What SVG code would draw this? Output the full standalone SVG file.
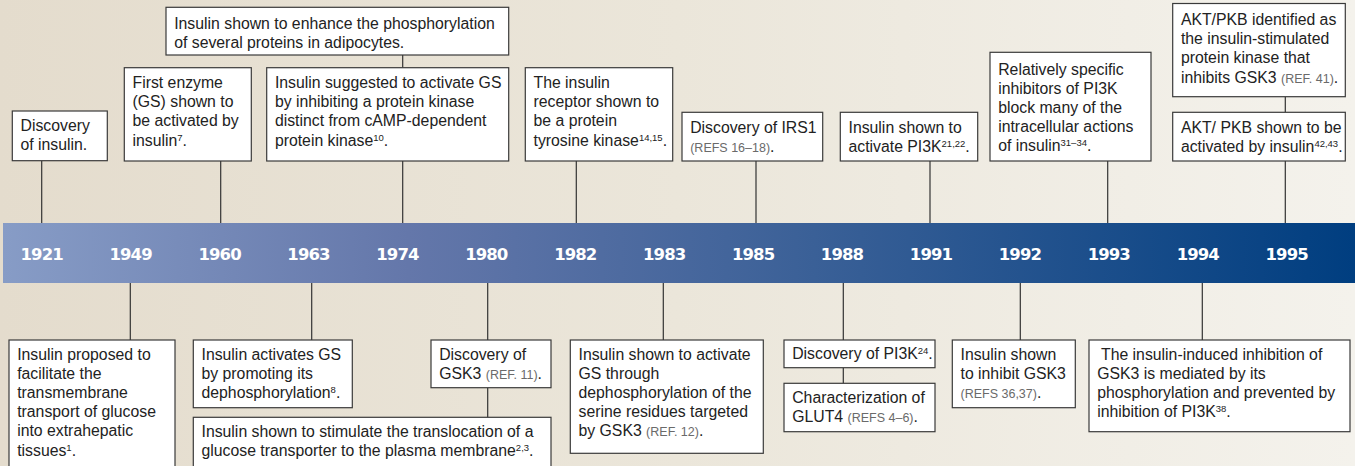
<svg xmlns="http://www.w3.org/2000/svg" width="1355" height="466" viewBox="0 0 1355 466">
<defs>
<linearGradient id="bg" x1="0" y1="0" x2="1" y2="0">
<stop offset="0" stop-color="#e4dccd"/>
<stop offset="0.5" stop-color="#ebe6da"/>
<stop offset="1" stop-color="#f4f2ec"/>
</linearGradient>
<linearGradient id="band" x1="0" y1="0" x2="1" y2="0">
<stop offset="0" stop-color="#879cc6"/>
<stop offset="0.3" stop-color="#6477aa"/>
<stop offset="0.6" stop-color="#3a6097"/>
<stop offset="1" stop-color="#003e80"/>
</linearGradient>
<style>
.box{fill:#fff;stroke:#3a3a3a;stroke-width:1.2}
.t{font-family:"Liberation Sans",Arial,sans-serif;font-size:15.8px;fill:#222}
.ref{font-size:12.5px;fill:#6a6a6a}
.sup{font-size:9.5px}
.yr{font-family:"DejaVu Sans",Verdana,sans-serif;font-weight:bold;font-size:16.5px;fill:#fff;text-anchor:middle;letter-spacing:-0.9px}
.c{stroke:#333;stroke-width:1.2;fill:none}
</style>
</defs>
<rect x="0" y="0" width="1355" height="466" fill="url(#bg)"/>
<rect id="band-rect" x="3" y="223" width="1352" height="60" fill="url(#band)"/>
<g id="years">
<text class="yr" x="41.7" y="260">1921</text>
<text class="yr" x="130.6" y="260">1949</text>
<text class="yr" x="219.6" y="260">1960</text>
<text class="yr" x="308.5" y="260">1963</text>
<text class="yr" x="397.4" y="260">1974</text>
<text class="yr" x="486.3" y="260">1980</text>
<text class="yr" x="575.3" y="260">1982</text>
<text class="yr" x="664.2" y="260">1983</text>
<text class="yr" x="753.1" y="260">1985</text>
<text class="yr" x="842" y="260">1988</text>
<text class="yr" x="931" y="260">1991</text>
<text class="yr" x="1019.9" y="260">1992</text>
<text class="yr" x="1108.8" y="260">1993</text>
<text class="yr" x="1197.8" y="260">1994</text>
<text class="yr" x="1286.7" y="260">1995</text>
</g>
<g id="connectors">
<line class="c" x1="41.7" y1="161" x2="41.7" y2="223"/>
<line class="c" x1="220.7" y1="161" x2="220.7" y2="223"/>
<line class="c" x1="402.7" y1="161" x2="402.7" y2="223"/>
<line class="c" x1="402.7" y1="55" x2="402.7" y2="67.7"/>
<line class="c" x1="576.3" y1="161" x2="576.3" y2="223"/>
<line class="c" x1="756" y1="161" x2="756" y2="223"/>
<line class="c" x1="930" y1="161" x2="930" y2="223"/>
<line class="c" x1="1107.7" y1="161" x2="1107.7" y2="223"/>
<line class="c" x1="1285.3" y1="161" x2="1285.3" y2="223"/>
<line class="c" x1="1285.3" y1="96.7" x2="1285.3" y2="112.3"/>
<line class="c" x1="130.3" y1="283" x2="130.3" y2="340"/>
<line class="c" x1="311.7" y1="283" x2="311.7" y2="340"/>
<line class="c" x1="487.7" y1="283" x2="487.7" y2="340"/>
<line class="c" x1="487.7" y1="387.7" x2="487.7" y2="417.3"/>
<line class="c" x1="663.3" y1="283" x2="663.3" y2="340"/>
<line class="c" x1="843.3" y1="283" x2="843.3" y2="340"/>
<line class="c" x1="843.3" y1="367.7" x2="843.3" y2="383.3"/>
<line class="c" x1="1020.3" y1="283" x2="1020.3" y2="340"/>
<line class="c" x1="1202.3" y1="283" x2="1202.3" y2="340"/>
</g>
<g id="n1921">
<rect class="box" x="12.3" y="111" width="95" height="49.7"/>
<text class="t" x="20.5" y="131"><tspan x="20.5">Discovery</tspan><tspan x="20.5" dy="19.2">of insulin.</tspan></text>
</g>
<g id="n1960">
<rect class="box" x="124.3" y="67.7" width="127" height="93.3"/>
<text class="t" x="132.5" y="88"><tspan x="132.5">First enzyme</tspan><tspan x="132.5" dy="19.2">(GS) shown to</tspan><tspan x="132.5" dy="19.2">be activated by</tspan><tspan x="132.5" dy="19.2">insulin<tspan class="sup" baseline-shift="super">7</tspan>.</tspan></text>
</g>
<g id="n1963top">
<rect class="box" x="166" y="7.3" width="342.7" height="47.7"/>
<text class="t" x="174.2" y="29"><tspan x="174.2">Insulin shown to enhance the phosphorylation</tspan><tspan x="174.2" dy="19.2">of several proteins in adipocytes.</tspan></text>
</g>
<g id="n1974">
<rect class="box" x="266.7" y="67.7" width="242" height="93.3"/>
<text class="t" x="274.9" y="88"><tspan x="274.9">Insulin suggested to activate GS</tspan><tspan x="274.9" dy="19.2">by inhibiting a protein kinase</tspan><tspan x="274.9" dy="19.2">distinct from cAMP-dependent</tspan><tspan x="274.9" dy="19.2">protein kinase<tspan class="sup" baseline-shift="super">10</tspan>.</tspan></text>
</g>
<g id="n1982">
<rect class="box" x="525.3" y="67.7" width="147.4" height="93.3"/>
<text class="t" x="533.5" y="88"><tspan x="533.5">The insulin</tspan><tspan x="533.5" dy="19.2">receptor shown to</tspan><tspan x="533.5" dy="19.2">be a protein</tspan><tspan x="533.5" dy="19.2">tyrosine kinase<tspan class="sup" baseline-shift="super">14,15</tspan>.</tspan></text>
</g>
<g id="n1985">
<rect class="box" x="682" y="112.3" width="140.7" height="48.7"/>
<text class="t" x="690.2" y="132.5"><tspan x="690.2">Discovery of IRS1</tspan><tspan x="690.2" dy="19.2"><tspan class="ref">(REFS 16–18)</tspan>.</tspan></text>
</g>
<g id="n1991">
<rect class="box" x="840.3" y="112.3" width="137.4" height="48.7"/>
<text class="t" x="848.5" y="132.5"><tspan x="848.5">Insulin shown to</tspan><tspan x="848.5" dy="19.2">activate PI3K<tspan class="sup" baseline-shift="super">21,22</tspan>.</tspan></text>
</g>
<g id="n1993">
<rect class="box" x="990" y="52.3" width="161" height="108.7"/>
<text class="t" x="998.2" y="74.5"><tspan x="998.2">Relatively specific</tspan><tspan x="998.2" dy="19.2">inhibitors of PI3K</tspan><tspan x="998.2" dy="19.2">block many of the</tspan><tspan x="998.2" dy="19.2">intracellular actions</tspan><tspan x="998.2" dy="19.2">of insulin<tspan class="sup" baseline-shift="super">31–34</tspan>.</tspan></text>
</g>
<g id="n1995top">
<rect class="box" x="1172.7" y="3.5" width="172.6" height="93.2"/>
<text class="t" x="1180.9" y="25"><tspan x="1180.9">AKT/PKB identified as</tspan><tspan x="1180.9" dy="19.2">the insulin-stimulated</tspan><tspan x="1180.9" dy="19.2">protein kinase that</tspan><tspan x="1180.9" dy="19.2">inhibits GSK3 <tspan class="ref">(REF. 41)</tspan>.</tspan></text>
</g>
<g id="n1995">
<rect class="box" x="1172.7" y="112.3" width="172.6" height="48.7"/>
<text class="t" x="1180.9" y="132.5"><tspan x="1180.9">AKT/ PKB shown to be</tspan><tspan x="1180.9" dy="19.2">activated by insulin<tspan class="sup" baseline-shift="super">42,43</tspan>.</tspan></text>
</g>
<g id="n1949">
<rect class="box" x="9" y="340" width="166" height="140"/>
<text class="t" x="17.2" y="359.5"><tspan x="17.2">Insulin proposed to</tspan><tspan x="17.2" dy="19.2">facilitate the</tspan><tspan x="17.2" dy="19.2">transmembrane</tspan><tspan x="17.2" dy="19.2">transport of glucose</tspan><tspan x="17.2" dy="19.2">into extrahepatic</tspan><tspan x="17.2" dy="19.2">tissues<tspan class="sup" baseline-shift="super">1</tspan>.</tspan></text>
</g>
<g id="n1963">
<rect class="box" x="193.3" y="340" width="159" height="67.7"/>
<text class="t" x="201.5" y="359.5"><tspan x="201.5">Insulin activates GS</tspan><tspan x="201.5" dy="19.2">by promoting its</tspan><tspan x="201.5" dy="19.2">dephosphorylation<tspan class="sup" baseline-shift="super">8</tspan>.</tspan></text>
</g>
<g id="n1980b">
<rect class="box" x="193.3" y="417.3" width="357.7" height="60"/>
<text class="t" x="201.5" y="436.8"><tspan x="201.5">Insulin shown to stimulate the translocation of a</tspan><tspan x="201.5" dy="19.2">glucose transporter to the plasma membrane<tspan class="sup" baseline-shift="super">2,3</tspan>.</tspan></text>
</g>
<g id="n1980">
<rect class="box" x="431" y="340" width="120" height="47.7"/>
<text class="t" x="439.2" y="359.5"><tspan x="439.2">Discovery of</tspan><tspan x="439.2" dy="19.2">GSK3 <tspan class="ref">(REF. 11)</tspan>.</tspan></text>
</g>
<g id="n1983">
<rect class="box" x="570.3" y="340" width="193" height="113.3"/>
<text class="t" x="578.5" y="359.5"><tspan x="578.5">Insulin shown to activate</tspan><tspan x="578.5" dy="19.2">GS through</tspan><tspan x="578.5" dy="19.2">dephosphorylation of the</tspan><tspan x="578.5" dy="19.2">serine residues targeted</tspan><tspan x="578.5" dy="19.2">by GSK3 <tspan class="ref">(REF. 12)</tspan>.</tspan></text>
</g>
<g id="n1988">
<rect class="box" x="784" y="340" width="151" height="27.7"/>
<text class="t" x="792.2" y="359.3">Discovery of PI3K<tspan class="sup" baseline-shift="super">24</tspan>.</text>
</g>
<g id="n1988b">
<rect class="box" x="784" y="383.3" width="151" height="48.4"/>
<text class="t" x="792.2" y="403"><tspan x="792.2">Characterization of</tspan><tspan x="792.2" dy="19.2">GLUT4 <tspan class="ref">(REFS 4–6)</tspan>.</tspan></text>
</g>
<g id="n1992">
<rect class="box" x="952.3" y="340" width="123" height="67.7"/>
<text class="t" x="960.5" y="359.5"><tspan x="960.5">Insulin shown</tspan><tspan x="960.5" dy="19.2">to inhibit GSK3</tspan><tspan x="960.5" dy="19.2"><tspan class="ref">(REFS 36,37)</tspan>.</tspan></text>
</g>
<g id="n1994">
<rect class="box" x="1089" y="340" width="261" height="91.7"/>
<text class="t" x="1097.2" y="359.5"><tspan x="1101">The insulin-induced inhibition of</tspan><tspan x="1097.2" dy="19.2">GSK3 is mediated by its</tspan><tspan x="1097.2" dy="19.2">phosphorylation and prevented by</tspan><tspan x="1097.2" dy="19.2">inhibition of PI3K<tspan class="sup" baseline-shift="super">38</tspan>.</tspan></text>
</g>
</svg>
